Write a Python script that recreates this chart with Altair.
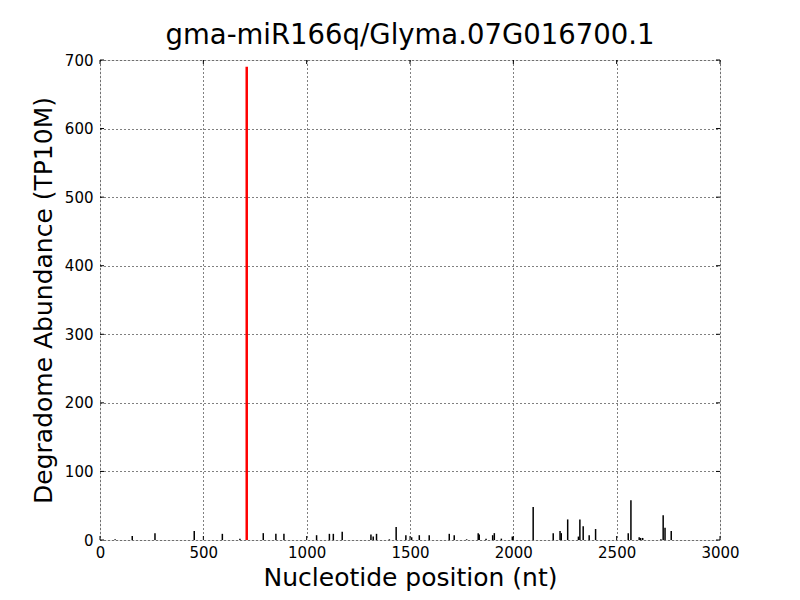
import altair as alt
import pandas as pd

positions = [73, 156, 266, 456, 592, 677, 790, 851, 890, 1048, 1110, 1129, 1172,
             1311, 1322, 1338, 1400, 1433, 1480, 1508, 1545, 1593, 1690, 1714,
             1774, 1830, 1835, 1868, 1900, 1908, 1942, 1995, 2096, 2193, 2226,
             2232, 2263, 2315, 2322, 2338, 2367, 2398, 2556, 2569, 2609, 2616,
             2626, 2714, 2725, 2734, 2764]
abundance = [1, 6, 10, 13, 9, 2, 10, 9, 9, 7, 9, 9, 12,
             8, 5, 9, 1, 19, 7, 4, 7, 7, 9, 7,
             1, 10, 8, 2, 7, 10, 2, 5, 48, 10, 13,
             10, 30, 5, 30, 20, 7, 16, 10, 58, 4, 3,
             3, 1, 36, 18, 13]
target_pos = [710]
target_val = [690]
x_ticks = [0, 500, 1000, 1500, 2000, 2500, 3000]
y_ticks = [0, 100, 200, 300, 400, 500, 600, 700]

df = pd.DataFrame({"pos": positions, "val": abundance})
dt = pd.DataFrame({"pos": target_pos, "val": target_val})
dxt = pd.DataFrame({"t": x_ticks})
dyt = pd.DataFrame({"t": y_ticks})

FONT = "DejaVu Sans"
xs = alt.Scale(domain=[0, 3000], nice=False)
ys = alt.Scale(domain=[0, 700], nice=False)

common = dict(grid=True, gridDash=[1, 3], gridColor="black", gridOpacity=1,
              tickSize=0, labelFontSize=15, labelFont=FONT, labelColor="black",
              titleFont=FONT, titleFontSize=25, titleFontWeight="normal",
              titleColor="black", domain=False, labelFlush=False, format="d")
xaxis = alt.Axis(values=x_ticks, labelPadding=5, titlePadding=5, **common)
yaxis = alt.Axis(values=y_ticks, labelPadding=7, titlePadding=8, **common)

bars = alt.Chart(df).mark_rule(color="black", strokeWidth=1.5).encode(
    x=alt.X("pos:Q", scale=xs, axis=xaxis, title="Nucleotide position (nt)"),
    y=alt.Y("val:Q", scale=ys, axis=yaxis, title="Degradome Abundance (TP10M)"),
    y2=alt.datum(0),
)
red = alt.Chart(dt).mark_rule(color="#ff0000", strokeWidth=2.5).encode(
    x=alt.X("pos:Q", scale=xs),
    y=alt.Y("val:Q", scale=ys),
    y2=alt.datum(0),
)
xt_bot = alt.Chart(dxt).mark_rule(color="black", strokeWidth=1).encode(
    x=alt.X("t:Q", scale=xs), y=alt.value(480), y2=alt.value(476))
xt_top = alt.Chart(dxt).mark_rule(color="black", strokeWidth=1).encode(
    x=alt.X("t:Q", scale=xs), y=alt.value(0), y2=alt.value(4))
yt_l = alt.Chart(dyt).mark_rule(color="black", strokeWidth=1).encode(
    y=alt.Y("t:Q", scale=ys), x=alt.value(0), x2=alt.value(4))
yt_r = alt.Chart(dyt).mark_rule(color="black", strokeWidth=1).encode(
    y=alt.Y("t:Q", scale=ys), x=alt.value(620), x2=alt.value(616))

chart = alt.layer(bars, red, xt_bot, xt_top, yt_l, yt_r).properties(
    width=620, height=480,
    title=alt.TitleParams("gma-miR166q/Glyma.07G016700.1", font=FONT,
                          fontSize=27.5, fontWeight="normal", color="black",
                          offset=4),
    autosize=alt.AutoSizeParams(type="none"),
    padding={"left": 92, "top": 52, "right": 72, "bottom": 52},
).configure_view(stroke="black", strokeWidth=1).configure(background="white")

chart.save("out.html", embed_options={"renderer": "svg", "actions": False})
